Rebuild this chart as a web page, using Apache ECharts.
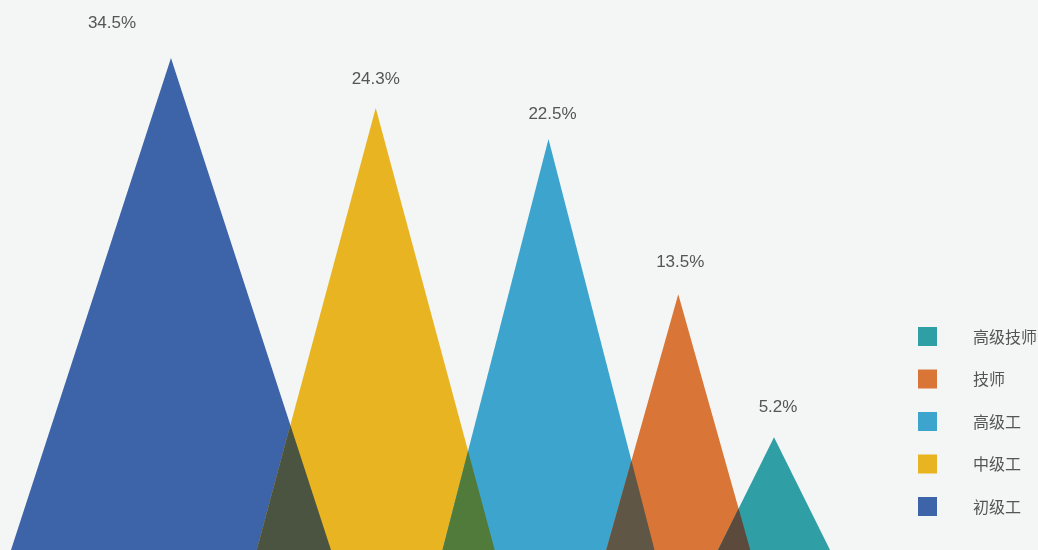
<!DOCTYPE html>
<html>
<head>
<meta charset="utf-8">
<script src="https://cdn.jsdelivr.net/npm/echarts@6/dist/echarts.min.js"></script>
<style>
html,body{margin:0;padding:0;background:#f4f6f6;}
#chart{width:1038px;height:550px;}
</style>
</head>
<body>
<div id="chart"></div>
<script>
// ---- data ----
const categories = ['初级工', '中级工', '高级工', '技师', '高级技师'];
const values = [34.5, 24.3, 22.5, 13.5, 5.2];
const legendOrder = ['高级技师', '技师', '高级工', '中级工', '初级工'];

// ---- styles / layout ----
const colors = ['#3d63a8', '#e8b421', '#3da4cd', '#d97536', '#2f9ea5'];
const overlapColors = [null, '#4b5341', '#517b3b', '#5f5646', '#5c4b3c'];
const centerShift = [-37, 17, 39, 18, -37];      // px nudge of each peak
const baseHalfWidth = [160, 119, 106, 72, 56];    // px half width at chart bottom
const labelShift = [[-59, -35], [0, -29], [4, -25], [2, -32], [4, -30]];

const chart = echarts.init(document.getElementById('chart'));

function geom(api, i) {
  const p = api.coord([i, values[i]]);
  const ax = p[0] + centerShift[i];
  const ay = p[1];
  const by = api.getHeight();
  return { ax, ay, by, lx: ax - baseHalfWidth[i], rx: ax + baseHalfWidth[i] };
}

function makeRender(i) {
  return function (params, api) {
    const g = geom(api, i);
    const children = [{
      type: 'polygon',
      shape: { points: [[g.lx, g.by], [g.ax, g.ay], [g.rx, g.by]] },
      style: { fill: colors[i] }
    }];
    if (i > 0) {
      const q = geom(api, i - 1);
      const x1 = q.ax, y1 = q.ay, x2 = q.rx, y2 = q.by;
      const x3 = g.ax, y3 = g.ay, x4 = g.lx, y4 = g.by;
      const d = (x1 - x2) * (y3 - y4) - (y1 - y2) * (x3 - x4);
      if (Math.abs(d) > 1e-6) {
        const t = ((x1 - x3) * (y3 - y4) - (y1 - y3) * (x3 - x4)) / d;
        const ix = x1 + t * (x2 - x1), iy = y1 + t * (y2 - y1);
        if (iy < g.by) {
          children.push({
            type: 'polygon',
            shape: { points: [[g.lx, g.by], [ix, iy], [q.rx, q.by]] },
            style: { fill: overlapColors[i] }
          });
        }
      }
    }
    children.push({
      type: 'text',
      x: g.ax + labelShift[i][0],
      y: g.ay + labelShift[i][1],
      style: {
        text: values[i] + '%',
        fill: '#555',
        fontSize: 17,
        fontFamily: 'Liberation Sans, Arial, sans-serif',
        align: 'center',
        verticalAlign: 'middle'
      }
    });
    return { type: 'group', children };
  };
}

const series = categories.map((name, i) => ({
  name,
  type: 'custom',
  silent: true,
  clip: false,
  itemStyle: { color: colors[i] },
  renderItem: makeRender(i),
  encode: { x: 0, y: 1 },
  data: [[i, values[i]]],
  z: 2 + i
}));

chart.setOption({
  backgroundColor: '#f4f6f6',
  animation: false,
  grid: { left: 132.6, right: 151.6, top: 58, bottom: 23 },
  xAxis: { type: 'category', data: categories, show: false, boundaryGap: true },
  yAxis: {
    type: 'value', show: false, min: 0, max: 34.5,
    breaks: [{ start: 25, end: 32.3, gap: 0 }],
    breakArea: { show: false }
  },
  legend: {
    data: legendOrder,
    orient: 'vertical',
    left: 918,
    top: 327,
    padding: 0,
    itemWidth: 19,
    itemHeight: 19,
    itemGap: 23.5,
    icon: 'rect',
    selectedMode: false,
    textStyle: {
      color: '#555',
      fontSize: 16,
      fontFamily: 'Noto Sans CJK SC, sans-serif',
      padding: [0, 0, 0, 31]
    }
  },
  series
});
</script>
</body>
</html>
